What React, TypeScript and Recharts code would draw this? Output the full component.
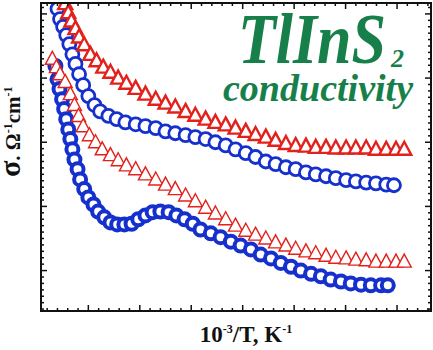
import React from 'react';
import { ScatterChart, Scatter, XAxis, YAxis } from 'recharts';

// x = 10^3/T (arbitrary units, major tick = 1), y = log10(sigma)
const redUpper: [number, number][] = [
  [2.55, -3.84], [2.61, -3.98], [2.67, -4.11], [2.75, -4.23], [2.82, -4.36],
  [2.92, -4.48], [3.04, -4.63], [3.16, -4.73], [3.29, -4.83], [3.43, -4.91],
  [3.58, -5.0], [3.74, -5.08], [3.92, -5.16], [4.11, -5.25], [4.31, -5.33],
  [4.5, -5.39], [4.69, -5.45], [4.89, -5.52], [5.08, -5.58], [5.28, -5.64],
  [5.47, -5.69], [5.67, -5.73], [5.86, -5.78], [6.06, -5.83], [6.25, -5.88],
  [6.45, -5.92], [6.64, -5.97], [6.84, -6.02], [7.03, -6.05], [7.23, -6.06],
  [7.42, -6.08], [7.62, -6.08], [7.81, -6.09], [8.01, -6.09], [8.2, -6.09],
  [8.4, -6.09], [8.59, -6.11], [8.79, -6.11], [8.98, -6.11], [9.14, -6.11],
];

const blueUpper: [number, number][] = [
  [2.4, -3.92], [2.45, -4.08], [2.51, -4.2], [2.57, -4.33], [2.63, -4.47],
  [2.69, -4.63], [2.75, -4.78], [2.82, -4.94], [2.9, -5.11], [3.0, -5.28],
  [3.12, -5.42], [3.23, -5.52], [3.39, -5.59], [3.55, -5.64], [3.72, -5.69],
  [3.92, -5.72], [4.11, -5.75], [4.31, -5.78], [4.5, -5.83], [4.69, -5.86],
  [4.89, -5.89], [5.08, -5.92], [5.28, -5.95], [5.47, -6.0], [5.67, -6.05],
  [5.86, -6.11], [6.06, -6.17], [6.25, -6.23], [6.45, -6.3], [6.64, -6.34],
  [6.84, -6.39], [7.03, -6.42], [7.23, -6.47], [7.42, -6.5], [7.62, -6.53],
  [7.81, -6.56], [8.01, -6.59], [8.2, -6.61], [8.4, -6.63], [8.59, -6.64],
  [8.79, -6.66], [8.94, -6.67],
];

const redLower: [number, number][] = [
  [2.3, -4.7], [2.38, -4.83], [2.45, -4.94], [2.55, -5.06], [2.65, -5.25],
  [2.73, -5.42], [2.81, -5.59], [2.9, -5.75], [3.02, -5.89], [3.14, -6.0],
  [3.27, -6.11], [3.43, -6.2], [3.58, -6.28], [3.74, -6.36], [3.92, -6.42],
  [4.11, -6.5], [4.31, -6.58], [4.5, -6.66], [4.69, -6.73], [4.89, -6.83],
  [5.08, -6.92], [5.28, -7.02], [5.47, -7.11], [5.67, -7.2], [5.86, -7.3],
  [6.06, -7.38], [6.25, -7.44], [6.45, -7.5], [6.64, -7.56], [6.84, -7.61],
  [7.03, -7.66], [7.23, -7.7], [7.42, -7.73], [7.62, -7.77], [7.81, -7.8],
  [8.01, -7.81], [8.2, -7.83], [8.4, -7.84], [8.59, -7.86], [8.79, -7.86],
  [8.98, -7.86], [9.14, -7.86],
];

const blueLower: [number, number][] = [
  [2.36, -4.81], [2.4, -5.02], [2.44, -5.17], [2.49, -5.33], [2.53, -5.48],
  [2.57, -5.64], [2.61, -5.8], [2.65, -5.95], [2.69, -6.11], [2.73, -6.27],
  [2.79, -6.42], [2.84, -6.58], [2.92, -6.73], [3.0, -6.86], [3.1, -6.97],
  [3.19, -7.08], [3.31, -7.17], [3.43, -7.25], [3.56, -7.28], [3.7, -7.28],
  [3.84, -7.27], [3.97, -7.2], [4.11, -7.14], [4.25, -7.09], [4.4, -7.08],
  [4.56, -7.09], [4.71, -7.14], [4.87, -7.2], [5.03, -7.27], [5.18, -7.36],
  [5.38, -7.42], [5.57, -7.48], [5.77, -7.55], [5.96, -7.61], [6.16, -7.67],
  [6.35, -7.75], [6.55, -7.81], [6.74, -7.88], [6.94, -7.94], [7.13, -8.0],
  [7.33, -8.05], [7.52, -8.09], [7.71, -8.14], [7.91, -8.17], [8.1, -8.2],
  [8.3, -8.22], [8.49, -8.23], [8.69, -8.23], [8.82, -8.23],
];

const xDomain: [number, number] = [2.08, 9.66];
const yDomain: [number, number] = [-8.63, -3.83];

const RED = '#e3211c';
const BLUE = '#1530cc';
const GREEN = '#17804a';
const AXIS = '#111';

// plot frame in page pixels
const PLOT = { left: 41, top: 3, right: 431, bottom: 311 };

const makeTicks = (from: number, to: number, step: number) => {
  const out: number[] = [];
  for (let v = from; v <= to + 1e-9; v += step) out.push(Math.round(v * 100) / 100);
  return out;
};
const xTicks = makeTicks(2.2, 9.6, 0.2);
const yTicks = makeTicks(-8.6, -3.9, 0.1);
const isMajor = (v: number) => Math.abs(v - Math.round(v)) < 1e-6;
const tickLen = (v: number) => (isMajor(v) ? 6 : 3);

const toPoints = (rows: [number, number][]) => rows.map(([x, y]) => ({ x, y }));

const Triangle = (strokeWidth: number) => (p: any) => {
  const { cx, cy } = p;
  if (cx == null || cy == null) return <g />;
  return (
    <polygon
      points={`${cx},${cy - 7.5} ${cx + 7},${cy + 5.5} ${cx - 7},${cy + 5.5}`}
      fill="#fff"
      stroke={RED}
      strokeWidth={strokeWidth}
    />
  );
};

const Circle = (r: number, strokeWidth: number) => (p: any) => {
  const { cx, cy } = p;
  if (cx == null || cy == null) return <g />;
  return <circle cx={cx} cy={cy} r={r} fill="#fff" stroke={BLUE} strokeWidth={strokeWidth} />;
};

// box with inward ticks on all four sides
function Frame() {
  const w = PLOT.right - PLOT.left;
  const h = PLOT.bottom - PLOT.top;
  const px = (v: number) => PLOT.left + ((v - xDomain[0]) / (xDomain[1] - xDomain[0])) * w;
  const py = (v: number) => PLOT.bottom - ((v - yDomain[0]) / (yDomain[1] - yDomain[0])) * h;
  return (
    <g stroke={AXIS} strokeWidth={1.5}>
      {xTicks.map((v) => (
        <g key={`x${v}`}>
          <line x1={px(v)} y1={PLOT.bottom} x2={px(v)} y2={PLOT.bottom - tickLen(v)} />
          <line x1={px(v)} y1={PLOT.top} x2={px(v)} y2={PLOT.top + tickLen(v)} />
        </g>
      ))}
      {yTicks.map((v) => (
        <g key={`y${v}`}>
          <line x1={PLOT.left} y1={py(v)} x2={PLOT.left + tickLen(v)} y2={py(v)} />
          <line x1={PLOT.right} y1={py(v)} x2={PLOT.right - tickLen(v)} y2={py(v)} />
        </g>
      ))}
      <rect x={PLOT.left} y={PLOT.top} width={w} height={h} fill="none" strokeWidth={2} />
    </g>
  );
}

const serif = '"Liberation Serif", "Times New Roman", serif';

export default function App() {
  return (
    <div style={{ position: 'absolute', left: 0, top: 0, width: 433, height: 350, background: '#fff' }}>
      <ScatterChart
        width={433}
        height={350}
        margin={{ top: PLOT.top, right: 433 - PLOT.right, bottom: 350 - PLOT.bottom - 2, left: PLOT.left - 2 }}
      >
        <XAxis
          type="number"
          dataKey="x"
          domain={xDomain}
          allowDataOverflow
          ticks={xTicks}
          height={2}
          tick={false}
          tickLine={false}
          axisLine={false}
        />
        <YAxis
          type="number"
          dataKey="y"
          domain={yDomain}
          allowDataOverflow
          ticks={yTicks}
          width={2}
          tick={false}
          tickLine={false}
          axisLine={false}
        />
        <Scatter data={toPoints(blueLower)} shape={Circle(6, 4)} isAnimationActive={false} />
        <Scatter data={toPoints(blueUpper)} shape={Circle(6.5, 2.8)} isAnimationActive={false} />
        <Scatter data={toPoints(redLower)} shape={Triangle(1.4)} isAnimationActive={false} />
        <Scatter data={toPoints(redUpper)} shape={Triangle(2.4)} isAnimationActive={false} />
      </ScatterChart>
      <svg
        width={433}
        height={350}
        style={{ position: 'absolute', left: 0, top: 0, pointerEvents: 'none' }}
      >
        <Frame />
        <text
          x={238}
          y={63}
          fontFamily={serif}
          fontWeight="bold"
          fontStyle="italic"
          fontSize={72}
          fill={GREEN}
          textLength={148}
          lengthAdjust="spacingAndGlyphs"
        >
          TlInS
        </text>
        <text x={391} y={67} fontFamily={serif} fontWeight="bold" fontStyle="italic" fontSize={26} fill={GREEN}>
          2
        </text>
        <text
          x={223}
          y={101}
          fontFamily={serif}
          fontWeight="bold"
          fontStyle="italic"
          fontSize={38}
          fill={GREEN}
          textLength={190}
          lengthAdjust="spacingAndGlyphs"
        >
          conductivity
        </text>
        <text x={246} y={342} textAnchor="middle" fontFamily={serif} fontWeight="bold" fontSize={23} fill="#111">
          10
          <tspan fontSize={12} dy={-9}>-3</tspan>
          <tspan dy={9}>/T, K</tspan>
          <tspan fontSize={12} dy={-9}>-1</tspan>
        </text>
        <g transform="translate(20,177) rotate(-90)">
          <text x={0} y={0} fontFamily={serif} fontWeight="bold" fill="#111">
            <tspan fontSize={30}>σ</tspan>
            <tspan fontSize={21}>. Ω</tspan>
            <tspan fontSize={12} dy={-8}>-1</tspan>
            <tspan fontSize={21} dy={8}>cm</tspan>
            <tspan fontSize={12} dy={-8}>-1</tspan>
          </text>
        </g>
      </svg>
    </div>
  );
}
